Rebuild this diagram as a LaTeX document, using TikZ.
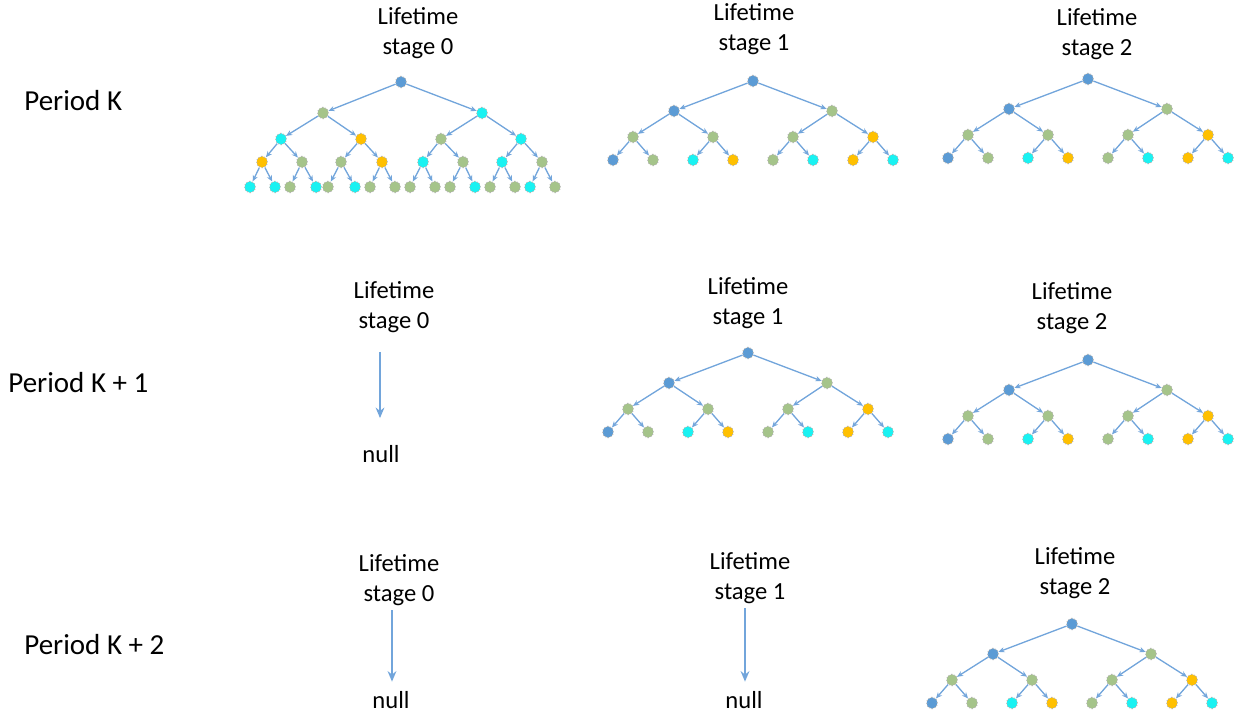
\documentclass[tikz,border=0pt]{standalone}
\usepackage{fontspec}
\setmainfont{Carlito}
\usetikzlibrary{arrows.meta,shapes.geometric}

\definecolor{rootblue}{HTML}{5B9BD5}
\definecolor{leafgreen}{HTML}{A5C48A}
\definecolor{leafcyan}{HTML}{19F2F2}
\definecolor{stageorange}{HTML}{FFC000}
\definecolor{branchblue}{HTML}{72A5DB}

% four-level tree: name, root x, root y (heap numbering, children of k are 2k and 2k+1)
\newcommand{\smalltree}[3]{%
    \foreach \k/\dx/\dy/\fillc in {
        1/0/0/rootblue,
        2/-79/30/rootblue,3/79/30/leafgreen,
        4/-120/56/leafgreen,5/-40/56/leafgreen,6/40/56/leafgreen,7/120/56/stageorange,
        8/-140/79/rootblue,9/-100/79/leafgreen,10/-60/79/leafcyan,11/-20/79/stageorange,
        12/20/79/leafgreen,13/60/79/leafcyan,14/100/79/stageorange,15/140/79/leafcyan}
        \node[treenode,fill=\fillc] (#1-\k) at ({#2+\dx},{#3+\dy}) {};
    \foreach \k in {2,...,15} {
        \pgfmathtruncatemacro\up{\k/2}
        \draw[branch] (#1-\up) -- (#1-\k);
    }
}

\begin{document}
\begin{tikzpicture}[
    x=0.02cm,y=-0.02cm,
    font=\fontsize{14}{17}\selectfont,
    treenode/.style={ellipse,draw=gray!60,densely dotted,line width=.6pt,
        inner sep=0pt,minimum width=.21cm,minimum height=.23cm},
    branch/.style={draw=branchblue,line width=.75pt,-{Stealth[length=3.5pt,width=3pt]}},
    nullarrow/.style={draw=branchblue,line width=.9pt,-{Stealth[length=6pt,width=5pt]}},
    stagelabel/.style={align=center,inner sep=0pt},
    period/.style={anchor=west,inner sep=0pt,font=\fontsize{16.5}{20}\selectfont}
]
    \useasboundingbox (0,0) rectangle (1241,719);

    % period labels
    \node[period] (pk0) at (24,101) {Period K};
    \node[period] (pk1) at (8,383) {Period K + 1};
    \node[period] (pk2) at (24,645) {Period K + 2};

    % lifetime stage labels, row by row
    \node[stagelabel] (k0s0) at (418,33) {Lifetime\\stage 0};
    \node[stagelabel] (k0s1) at (754,29) {Lifetime\\stage 1};
    \node[stagelabel] (k0s2) at (1097,34) {Lifetime\\stage 2};
    \node[stagelabel] (k1s0) at (394,307) {Lifetime\\stage 0};
    \node[stagelabel] (k1s1) at (748,303) {Lifetime\\stage 1};
    \node[stagelabel] (k1s2) at (1072,308) {Lifetime\\stage 2};
    \node[stagelabel] (k2s0) at (399,580) {Lifetime\\stage 0};
    \node[stagelabel] (k2s1) at (750,578) {Lifetime\\stage 1};
    \node[stagelabel] (k2s2) at (1075,573) {Lifetime\\stage 2};

    % Period K, stage 0: five levels
    \foreach \k/\dx/\dy/\fillc in {
        1/0/0/rootblue,
        2/-78/31/leafgreen,3/81/31/leafcyan,
        4/-120/57/leafcyan,5/-40/57/stageorange,6/40/57/leafgreen,7/120/57/leafcyan,
        8/-139/80/stageorange,9/-99/80/leafgreen,10/-60/80/leafgreen,11/-19/80/stageorange,
        12/22/80/leafcyan,13/62/80/leafgreen,14/101/80/leafcyan,15/141/80/leafgreen,
        16/-151/105/leafcyan,17/-126/105/leafcyan,18/-111/105/leafgreen,19/-85/105/leafcyan,
        20/-73/105/leafgreen,21/-46/105/leafcyan,22/-31/105/leafgreen,23/-6/105/leafgreen,
        24/9/105/leafgreen,25/34/105/leafgreen,26/49/105/leafgreen,27/74/105/leafcyan,
        28/89/105/leafgreen,29/114/105/leafgreen,30/129/105/leafcyan,31/154/105/leafgreen}
        \node[treenode,fill=\fillc] (t00-\k) at ({401+\dx},{82+\dy}) {};
    \foreach \k in {2,...,31} {
        \pgfmathtruncatemacro\up{\k/2}
        \draw[branch] (t00-\up) -- (t00-\k);
    }

    \smalltree{t01}{753}{81}
    \smalltree{t02}{1088}{79}
    \smalltree{t11}{748}{353}
    \smalltree{t12}{1088}{360}
    \smalltree{t22}{1072}{624}

    % empty stages
    \node (null10) at (381,454) {null};
    \node (null20) at (391,700) {null};
    \node (null21) at (744,700) {null};
    \coordinate (top10) at (380,352);
    \coordinate (top20) at (392,610);
    \coordinate (top21) at (745,608);
    \draw[nullarrow,shorten >=12pt] (top10) -- (top10 |- null10.north);
    \draw[nullarrow,shorten >=2pt] (top20) -- (top20 |- null20.north);
    \draw[nullarrow,shorten >=2pt] (top21) -- (top21 |- null21.north);
\end{tikzpicture}
\end{document}
